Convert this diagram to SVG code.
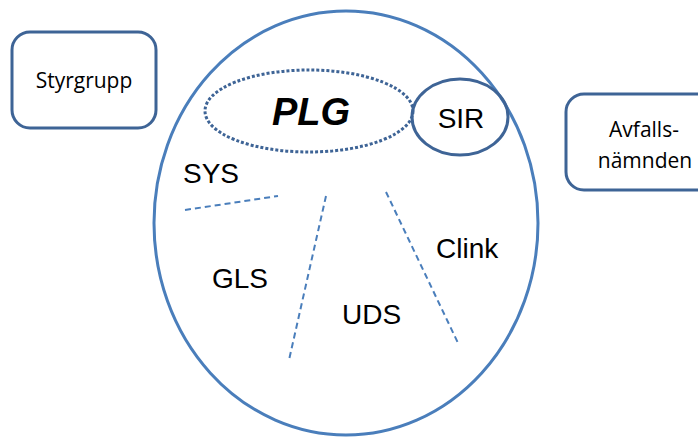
<svg xmlns="http://www.w3.org/2000/svg" width="698" height="437" viewBox="0 0 698 437">
<style>
.box{fill:#fff;stroke:#3e6496;stroke-width:3}
.lbl{font-family:"Open Sans","Liberation Sans",sans-serif;font-size:21px;fill:#000;text-anchor:middle}
.t{font-family:"Liberation Sans",Arial,sans-serif;font-size:28px;fill:#000}
.div{stroke:#4a7ebb;stroke-width:2;stroke-dasharray:6,4;fill:none}
</style>
<rect width="698" height="437" fill="#fff"/>
<g id="styrgrupp">
<rect class="box" x="12" y="32" width="144" height="96" rx="18"/>
<text class="lbl" x="84" y="88">Styrgrupp</text>
</g>
<g id="avfallsnamnden">
<rect class="box" x="566" y="94" width="150" height="96" rx="18"/>
<text class="lbl" x="644" y="137">Avfalls-</text>
<text class="lbl" x="645" y="168">nämnden</text>
</g>
<g id="main">
<ellipse cx="346" cy="223" rx="192" ry="212" fill="none" stroke="#4a7ebb" stroke-width="3"/>
</g>
<g id="plg">
<ellipse cx="309" cy="111" rx="104" ry="41" fill="none" stroke="#3e6496" stroke-width="3" stroke-dasharray="3,2"/>
<text x="311" y="125" font-family="Liberation Sans,Arial,sans-serif" font-size="38" font-weight="bold" font-style="italic" text-anchor="middle">PLG</text>
</g>
<g id="sir">
<ellipse cx="460" cy="117" rx="48" ry="38" fill="none" stroke="#3e6496" stroke-width="3"/>
<text class="t" x="461" y="128" text-anchor="middle">SIR</text>
</g>
<g id="sys"><text class="t" x="183" y="183">SYS</text></g>
<g id="gls"><text class="t" x="212" y="288">GLS</text></g>
<g id="uds"><text class="t" x="342" y="324">UDS</text></g>
<g id="clink"><text class="t" x="436" y="258">Clink</text></g>
<g id="connectors">
<line class="div" x1="185" y1="210" x2="278" y2="196"/>
<line class="div" x1="326" y1="196" x2="289" y2="360"/>
<line class="div" x1="386" y1="192" x2="458" y2="343"/>
</g>
</svg>
